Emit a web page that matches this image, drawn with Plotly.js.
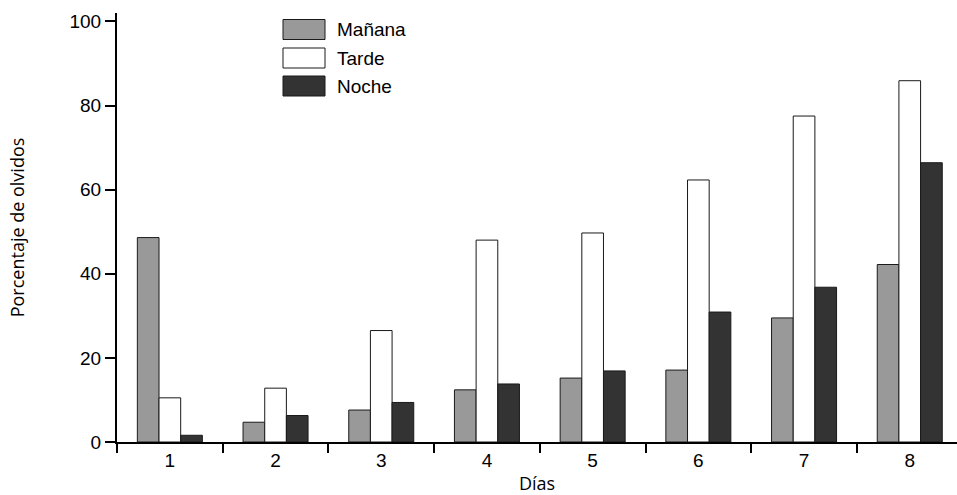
<!DOCTYPE html>
<html>
<head>
<meta charset="utf-8">
<script src="https://cdn.plot.ly/plotly-3.0.1.min.js"></script>
<style>html,body{margin:0;padding:0;background:#fff;}#chart{width:957px;height:495px;}</style>
</head>
<body>
<div id="chart"></div>
<script>
const dias = ["1", "2", "3", "4", "5", "6", "7", "8"];
const manana = [48.6, 4.7, 7.6, 12.4, 15.2, 17.1, 29.5, 42.2];
const tarde = [10.5, 12.8, 26.5, 48.0, 49.7, 62.3, 77.5, 85.9];
const noche = [1.6, 6.3, 9.4, 13.8, 16.9, 30.9, 36.8, 66.4];
const seriesNames = ["Mañana", "Tarde", "Noche"];
const seriesColors = ["#999999", "#ffffff", "#333333"];

const seriesData = [manana, tarde, noche];
const traces = seriesData.map((vals, i) => ({
  type: "bar",
  name: seriesNames[i],
  x: dias,
  y: vals,
  marker: {color: seriesColors[i], line: {color: "#1a1a1a", width: 1}},
  showlegend: false,
  hoverinfo: "x+y+name"
}));

// custom legend (large swatches like the original)
const legShapes = [];
const legAnn = [];
const W = 957, H = 495, mL = 117, mR = 0, mT = 13, mB = 53;
const pw = W - mL - mR, ph = H - mT - mB;
function px2x(px) { return (px - mL) / pw; }
function py2y(py) { return 1 - (py - mT) / ph; }
const rowCenters = [29.5, 58, 86];
seriesNames.forEach((n, i) => {
  const cy = rowCenters[i];
  legShapes.push({
    type: "rect", xref: "paper", yref: "paper",
    x0: px2x(283), x1: px2x(325), y0: py2y(cy + 10), y1: py2y(cy - 10),
    fillcolor: seriesColors[i], line: {color: "#1a1a1a", width: 1}
  });
  legAnn.push({
    xref: "paper", yref: "paper", x: px2x(335), y: py2y(cy),
    xanchor: "left", yanchor: "middle", showarrow: false, text: n,
    font: {family: "Liberation Sans, Arial, sans-serif", size: 19, color: "#000"}
  });
});

const layout = {
  width: W, height: H,
  margin: {l: mL, r: mR, t: mT, b: mB, pad: 0},
  paper_bgcolor: "#fff", plot_bgcolor: "#fff",
  barmode: "group", bargap: 0.385, bargroupgap: 0,
  showlegend: false,
  xaxis: {
    type: "category",
    range: [-0.5, -0.5 + 840 / 105.7],
    tickson: "boundaries",
    ticks: "outside", ticklen: 9, tickwidth: 2, tickcolor: "#000",
    showline: true, linewidth: 2, linecolor: "#000",
    showgrid: false, zeroline: false,
    tickfont: {family: "Liberation Sans, Arial, sans-serif", size: 19, color: "#000"},
    title: {text: "Días", standoff: 8, font: {family: "'Open Sans', sans-serif", size: 18, color: "#000"}},
    automargin: false, fixedrange: true
  },
  yaxis: {
    range: [0, 102],
    tickvals: [0, 20, 40, 60, 80, 100],
    ticks: "outside", ticklen: 10, tickwidth: 2, tickcolor: "#000",
    showline: true, linewidth: 2, linecolor: "#000",
    showgrid: false, zeroline: false,
    tickfont: {family: "Liberation Sans, Arial, sans-serif", size: 19, color: "#000"},
    title: {text: "Porcentaje de olvidos", standoff: 40, font: {family: "'Open Sans', sans-serif", size: 18, color: "#000"}},
    automargin: false, fixedrange: true
  },
  shapes: legShapes,
  annotations: legAnn
};

Plotly.newPlot("chart", traces, layout, {displayModeBar: false, staticPlot: true});
</script>
</body>
</html>
